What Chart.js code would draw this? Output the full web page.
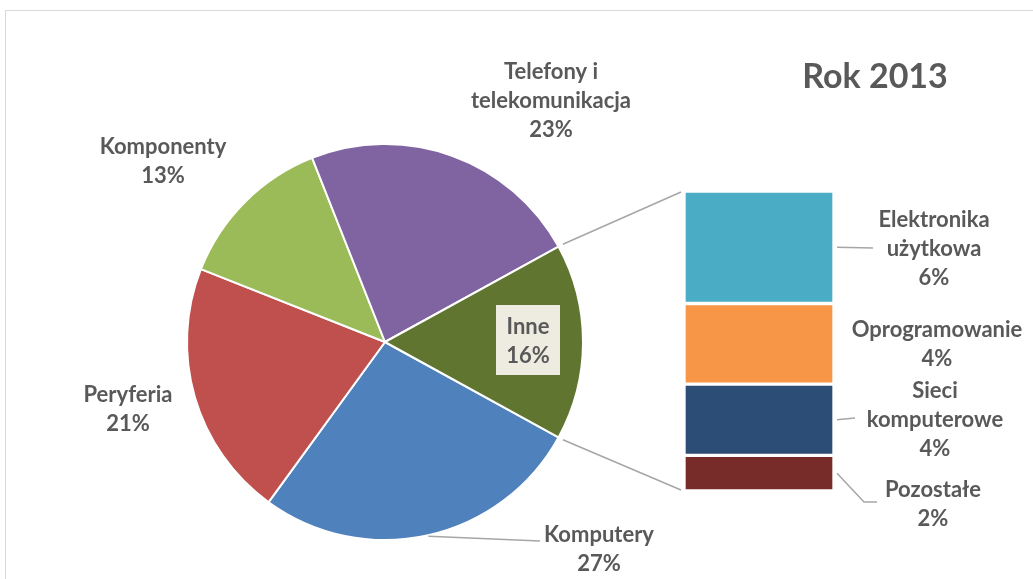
<!DOCTYPE html>
<html>
<head>
<meta charset="utf-8">
<script src="https://cdn.jsdelivr.net/npm/chart.js@4.4.1/dist/chart.umd.min.js"></script>
<style>
  html, body { margin: 0; padding: 0; background: #fff; overflow: hidden; }
  #wrap { position: relative; width: 1033px; height: 579px; }
  canvas { position: absolute; left: 0; top: 0; }
</style>
</head>
<body>
<div id="wrap">
  <canvas id="pie" width="1033" height="579"></canvas>
  <canvas id="bar" width="1033" height="579"></canvas>
</div>
<script>
const title = 'Rok 2013';

// pie: main categories, last one ("Inne") is broken out into the bar
const pieLabels = ['Komputery', 'Peryferia', 'Komponenty', 'Telefony i\ntelekomunikacja', 'Inne'];
const pieValues = [27, 21, 13, 23, 16];
const pieColors = ['#4F81BD', '#C0504D', '#9BBB59', '#8064A2', '#5F7530'];

// bar: parts of "Inne", bottom to top
const barLabels = ['Pozostałe', 'Sieci\nkomputerowe', 'Oprogramowanie', 'Elektronika\nużytkowa'];
const barValues = [1.9, 3.8, 4.3, 6.0];
const barColors = ['#772C2A', '#2C4D75', '#F79646', '#4BACC6'];

// label anchors (centre x, first line y)
const pieLabelPos = [[599, 535], [128, 395], [163, 147], [551, 72], [528, 327]];
const barLabelPos = [[933, 490], [935, 391], [937, 330], [934, 220]];
const leaderEnd = [[877, 502], [855, 418], null, [873, 248]];

const textColor = '#595959';
const lineColor = '#A6A6A6';
const font = 'bold 22px Lato';
const lineH = 29;

const total = pieValues.reduce((a, b) => a + b, 0);
const pct = v => Math.round(v / total * 100) + '%';

function drawLabel(ctx, text, value, x, y) {
  const lines = text.split('\n').concat([pct(value)]);
  ctx.font = font;
  ctx.fillStyle = textColor;
  ctx.textAlign = 'center';
  ctx.textBaseline = 'middle';
  lines.forEach((l, i) => ctx.fillText(l, x, y + i * lineH));
}

const pieChart = new Chart(document.getElementById('pie'), {
  type: 'pie',
  data: {
    labels: pieLabels,
    datasets: [{
      data: pieValues,
      backgroundColor: pieColors,
      borderColor: '#fff',
      borderWidth: 2,
      hoverOffset: 0
    }]
  },
  options: {
    responsive: false,
    animation: false,
    events: [],
    radius: 198,
    rotation: 90 + pieValues[4] / total * 180,
    layout: { padding: { left: 187, right: 450, top: 144, bottom: 39 } },
    plugins: { legend: { display: false }, tooltip: { enabled: false } }
  },
  plugins: [{
    id: 'pieDecor',
    beforeDraw(chart) {
      const ctx = chart.ctx;
      ctx.save();
      ctx.strokeStyle = '#D9D9D9';
      ctx.lineWidth = 1;
      ctx.beginPath();
      ctx.moveTo(5.5, 579);
      ctx.lineTo(5.5, 10.5);
      ctx.lineTo(1033, 10.5);
      ctx.stroke();
      ctx.restore();
    },
    afterDraw(chart) {
      const ctx = chart.ctx;
      const arcs = chart.getDatasetMeta(0).data;
      ctx.save();
      // title
      ctx.font = 'bold 34px Lato';
      ctx.fillStyle = textColor;
      ctx.textAlign = 'center';
      ctx.textBaseline = 'middle';
      ctx.fillText(title, 875, 77);

      // box behind "Inne"
      ctx.fillStyle = '#EEECE1';
      ctx.fillRect(496, 305, 64, 70);

      // leader line for Komputery
      const a = arcs[0];
      const mid = (a.startAngle + a.endAngle) / 2;
      ctx.strokeStyle = lineColor;
      ctx.lineWidth = 1.5;
      ctx.beginPath();
      ctx.moveTo(a.x + Math.cos(mid) * (a.outerRadius + 1), a.y + Math.sin(mid) * (a.outerRadius + 1));
      ctx.lineTo(540, 541);
      ctx.stroke();

      pieLabels.forEach((l, i) => drawLabel(ctx, l, pieValues[i], pieLabelPos[i][0], pieLabelPos[i][1]));
      ctx.restore();
    }
  }]
});

const barChart = new Chart(document.getElementById('bar'), {
  type: 'bar',
  data: {
    labels: [''],
    datasets: barValues.map((v, i) => ({
      label: barLabels[i],
      data: [v],
      backgroundColor: barColors[i],
      borderColor: '#fff',
      borderWidth: 2,
      borderSkipped: false,
      barPercentage: 1,
      categoryPercentage: 1
    }))
  },
  options: {
    responsive: false,
    animation: false,
    events: [],
    layout: { padding: { left: 684, right: 199, top: 191, bottom: 88 } },
    scales: {
      x: { stacked: true, display: false },
      y: { stacked: true, display: false, min: 0, max: pieValues[4] }
    },
    plugins: { legend: { display: false }, tooltip: { enabled: false } }
  },
  plugins: [{
    id: 'barDecor',
    afterDraw(chart) {
      const ctx = chart.ctx;
      ctx.save();
      ctx.strokeStyle = lineColor;
      ctx.lineWidth = 1.5;

      // connectors from the "Inne" slice to the bar
      const inne = pieChart.getDatasetMeta(0).data[4];
      const topSeg = chart.getDatasetMeta(barValues.length - 1).data[0];
      const botSeg = chart.getDatasetMeta(0).data[0];
      const left = topSeg.x - topSeg.width / 2 - 3;
      const r = inne.outerRadius + 5;
      ctx.beginPath();
      ctx.moveTo(inne.x + Math.cos(inne.startAngle) * r, inne.y + Math.sin(inne.startAngle) * r);
      ctx.lineTo(left, topSeg.y + 1);
      ctx.moveTo(inne.x + Math.cos(inne.endAngle) * r, inne.y + Math.sin(inne.endAngle) * r);
      ctx.lineTo(left, botSeg.base - 1);
      ctx.stroke();

      // leaders and labels for bar segments
      barValues.forEach((v, i) => {
        const seg = chart.getDatasetMeta(i).data[0];
        const right = seg.x + seg.width / 2 + 3;
        const midY = (seg.y + seg.base) / 2;
        const end = leaderEnd[i];
        if (end) {
          ctx.beginPath();
          ctx.moveTo(right, midY);
          if (Math.abs(end[1] - midY) > 3) {
            ctx.lineTo(end[0] - 13, end[1]);
          }
          ctx.lineTo(end[0], end[1]);
          ctx.stroke();
        }
        drawLabel(ctx, barLabels[i], v, barLabelPos[i][0], barLabelPos[i][1]);
      });
      ctx.restore();
    }
  }]
});
</script>
</body>
</html>
